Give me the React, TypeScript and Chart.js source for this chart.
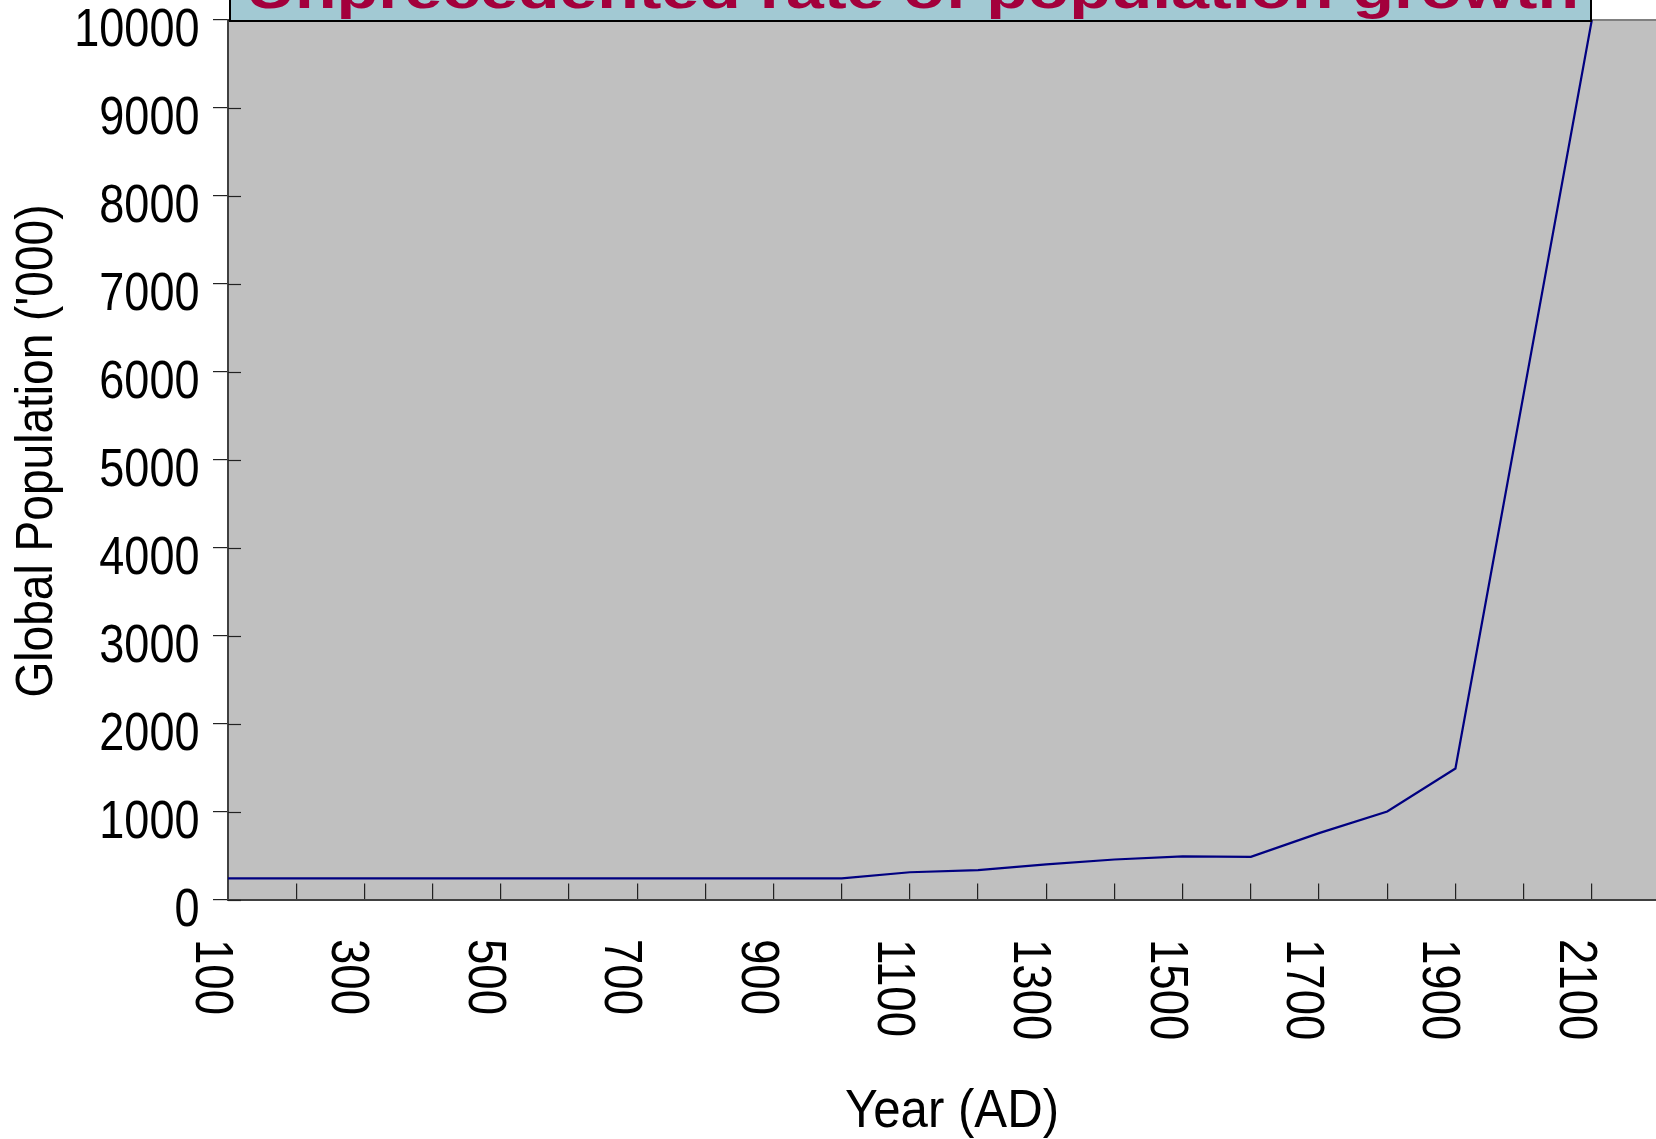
import React, { useEffect, useRef } from 'react';
import { Chart, registerables } from 'chart.js';

Chart.register(...registerables);

// ---- Data ----
const categories = [
  '100', '200', '300', '400', '500', '600', '700', '800', '900', '1000',
  '1100', '1200', '1300', '1400', '1500', '1600', '1700', '1800', '1900', '2000',
  '2100', '2200',
];
const population: (number | null)[] = [
  240, 240, 240, 240, 240, 240, 240, 240, 240, 240,
  310, 335, 400, 455, 490, 485, 755, 1000, 1490, 5745,
  10000, null,
];
const xTickLabels = ['100', '300', '500', '700', '900', '1100', '1300', '1500', '1700', '1900', '2100'];
const yTickValues = [0, 1000, 2000, 3000, 4000, 5000, 6000, 7000, 8000, 9000, 10000];
const chartTitle = 'Unprecedented rate of population growth';
const yTitle = "Global Population ('000)";
const xTitle = 'Year (AD)';

const FONT = '"Liberation Sans", Arial, sans-serif';

const CANVAS_W = 1700;
const CANVAS_H = 1139;

type TextOpts = {
  size: number;
  weight?: string;
  color: string;
  align: CanvasTextAlign;
  rotation?: number;
  sx?: number; // horizontal scale factor
  width?: number; // target width (overrides sx)
};

function drawText(ctx: CanvasRenderingContext2D, text: string, x: number, y: number, o: TextOpts) {
  ctx.save();
  ctx.font = `${o.weight || 'normal'} ${o.size}px ${FONT}`;
  ctx.fillStyle = o.color;
  ctx.textAlign = o.align;
  ctx.textBaseline = 'alphabetic';
  let sx = o.sx ?? 1;
  if (o.width) sx = o.width / ctx.measureText(text).width;
  ctx.translate(x, y);
  if (o.rotation) ctx.rotate(o.rotation);
  ctx.scale(sx, 1);
  ctx.fillText(text, 0, 0);
  ctx.restore();
}

const plotBgPlugin = {
  id: 'plotBg',
  beforeDraw(chart: any) {
    const { ctx, chartArea } = chart;
    ctx.save();
    ctx.fillStyle = '#C0C0C0';
    ctx.fillRect(chartArea.left, chartArea.top, chartArea.right - chartArea.left, chartArea.bottom - chartArea.top);
    ctx.strokeStyle = '#808080';
    ctx.lineWidth = 2;
    ctx.beginPath();
    ctx.moveTo(chartArea.left, chartArea.top);
    ctx.lineTo(chartArea.right, chartArea.top);
    ctx.stroke();
    ctx.restore();
  },
  beforeDatasetsDraw(chart: any) {
    // inner half of the crossing y-axis tick marks
    const { ctx, chartArea } = chart;
    const y = chart.scales.y;
    ctx.save();
    ctx.strokeStyle = '#222';
    ctx.lineWidth = 1.2;
    yTickValues.forEach((v) => {
      const py = Math.round(y.getPixelForValue(v)) + 0.5;
      ctx.beginPath();
      ctx.moveTo(chartArea.left, py);
      ctx.lineTo(chartArea.left + 13, py);
      ctx.stroke();
    });
    ctx.restore();
  },
};

const axisTextPlugin = {
  id: 'axisText',
  afterDraw(chart: any) {
    const { ctx } = chart;
    const x = chart.scales.x;
    const y = chart.scales.y;
    // y tick labels (condensed digits)
    yTickValues.forEach((v) => {
      const py = y.getPixelForValue(v);
      drawText(ctx, String(v), 199.5, py + 26, { size: 53, color: '#000', align: 'right', sx: 0.85 });
    });
    // x tick labels, rotated clockwise, reading downward
    xTickLabels.forEach((lbl) => {
      const px = x.getPixelForValue(categories.indexOf(lbl));
      drawText(ctx, lbl, px - 32, 939, {
        size: 53,
        color: '#000',
        align: 'left',
        rotation: Math.PI / 2,
        sx: 0.86,
      });
    });
    // axis titles
    drawText(ctx, yTitle, 52, 451, { size: 52, color: '#000', align: 'center', rotation: -Math.PI / 2, width: 493 });
    drawText(ctx, xTitle, 952, 1127, { size: 53, color: '#000', align: 'center', width: 214 });
  },
};

const titleBoxPlugin = {
  id: 'titleBox',
  afterDraw(chart: any) {
    const { ctx } = chart;
    const boxLeft = 230;
    const boxRight = 1591;
    const boxBottom = 21;
    ctx.save();
    ctx.fillStyle = '#A2C9D3';
    ctx.fillRect(boxLeft, -100, boxRight - boxLeft, boxBottom + 100);
    ctx.strokeStyle = '#000';
    ctx.lineWidth = 2;
    ctx.strokeRect(boxLeft, -100, boxRight - boxLeft, boxBottom + 100);
    ctx.restore();
    drawText(ctx, chartTitle, 246, 8, { size: 52, weight: 'bold', color: '#A3003C', align: 'left', width: 1333 });
  },
};

export default function App() {
  const canvasRef = useRef<HTMLCanvasElement | null>(null);

  useEffect(() => {
    const canvas = canvasRef.current;
    if (!canvas) return;
    const chart = new Chart(canvas, {
      type: 'line',
      data: {
        labels: categories,
        datasets: [
          {
            data: population,
            borderColor: '#000080',
            borderWidth: 2.2,
            pointRadius: 0,
            pointHoverRadius: 0,
            fill: false,
            tension: 0,
          },
        ],
      },
      options: {
        animation: false,
        responsive: false,
        devicePixelRatio: 1,
        layout: { padding: { top: 20, right: CANVAS_W - 1660, bottom: 0, left: 0 } },
        plugins: {
          legend: { display: false },
          tooltip: { enabled: false },
          title: { display: false },
        },
        scales: {
          x: {
            type: 'category',
            offset: false,
            grid: {
              display: true,
              drawOnChartArea: false,
              drawTicks: true,
              tickLength: -16,
              color: '#222',
              lineWidth: 1.2,
            },
            border: { display: true, color: '#404040', width: 2 },
            ticks: { display: false },
            title: { display: false },
            afterFit: (s: any) => {
              s.height = CANVAS_H - 899.5;
              s.paddingLeft = 0;
              s.paddingRight = 0;
            },
          },
          y: {
            min: yTickValues[0],
            max: yTickValues[yTickValues.length - 1],
            grid: {
              display: true,
              drawOnChartArea: false,
              drawTicks: true,
              tickLength: 15,
              color: '#222',
              lineWidth: 1.2,
            },
            border: { display: true, color: '#404040', width: 2 },
            ticks: {
              display: false,
              stepSize: yTickValues[1] - yTickValues[0],
            },
            title: { display: false },
            afterFit: (s: any) => {
              s.width = 228;
              s.paddingTop = 0;
              s.paddingBottom = 0;
            },
          },
        },
      },
      plugins: [plotBgPlugin, axisTextPlugin, titleBoxPlugin],
    });
    return () => chart.destroy();
  }, []);

  return (
    <div
      style={{
        position: 'fixed',
        left: 0,
        top: 0,
        width: 1656,
        height: 1139,
        overflow: 'hidden',
        background: '#fff',
      }}
    >
      <canvas
        ref={canvasRef}
        width={CANVAS_W}
        height={CANVAS_H}
        style={{ display: 'block', width: CANVAS_W, height: CANVAS_H }}
      />
    </div>
  );
}
